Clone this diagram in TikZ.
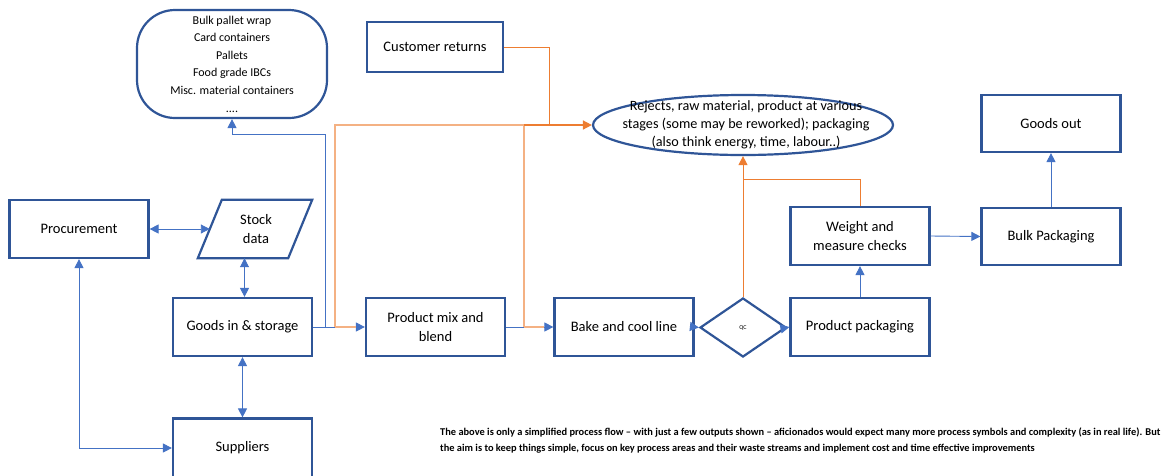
\documentclass[tikz,border=0pt]{standalone}
\usepackage{fontspec}
\setmainfont{Carlito}
\usetikzlibrary{arrows.meta,shapes.geometric,calc}
\definecolor{boxblue}{HTML}{2F5597}
\definecolor{lnblue}{HTML}{4472C4}
\definecolor{orD}{HTML}{ED7D31}
\definecolor{orL}{HTML}{F4B183}
\begin{document}
\begin{tikzpicture}[x=1pt,y=-1pt,
  box/.style={draw=boxblue, line width=2.2pt, fill=white, minimum width=139pt, minimum height=58pt, align=center, inner sep=2pt, font=\fontsize{14.5}{19.5}\selectfont},
  bl/.style={draw=lnblue, line width=0.9pt, -{Triangle[length=9pt,width=9pt]}},
  bld/.style={draw=lnblue, line width=0.9pt, {Triangle[length=9pt,width=9pt]}-{Triangle[length=9pt,width=9pt]}},
  orl/.style={draw=orL, line width=1.3pt},
  ord/.style={draw=orD, line width=1pt},
  ora/.style={draw=orD, line width=1.6pt, -{Triangle[length=9pt,width=9pt]}},
  shape outline/.style={draw=boxblue, line width=2.2pt, fill=white},
  notefont/.style={font=\bfseries\fontsize{10.4}{12}\selectfont}
]
\useasboundingbox (0,0) rectangle (1162,475);

% nodes
\node[box, rounded corners=38pt, minimum width=190pt, minimum height=108pt, font=\fontsize{12}{17.6}\selectfont] (wrap) at (232,64)
  {Bulk pallet wrap\\Card containers\\Pallets\\Food grade IBCs\\Misc. material containers\\....};
\node[box, minimum width=136pt, minimum height=50pt] (cr) at (435,47) {Customer returns};
\node[ellipse, shape outline, minimum width=300pt, minimum height=60pt, inner sep=0pt] (rej) at (743,125) {};
\node[align=center, font=\fontsize{14.2}{18.2}\selectfont, inner sep=0pt] (rejtxt) at (746,124.5)
  {Rejects, raw material, product at various\\stages (some may be reworked); packaging\\(also think energy, time, labour..)};
\node[box, minimum height=57pt] (out) at (1051,123.5) {Goods out};
\node[box] (proc) at (79,229) {Procurement};
\node[minimum width=90pt, minimum height=58pt, inner sep=0pt] (stock) at (255,229) {};
\draw[shape outline] ($(stock.south west)+(-12,0)$) -- ($(stock.south east)+(-12,0)$) -- ($(stock.north east)+(12,0)$) -- ($(stock.north west)+(12,0)$) -- cycle;
\node[align=center, font=\fontsize{14.5}{19.5}\selectfont] (stocktxt) at (256,229) {Stock\\data};
\node[box] (wt) at (860,236) {Weight and\\measure checks};
\node[box, minimum height=57pt] (bulk) at (1051,236.5) {Bulk Packaging};
\node[box] (gin) at (242.5,327) {Goods in \& storage};
\node[box] (mix) at (435.5,327) {Product mix and\\blend};
\node[box] (bake) at (624,327) {Bake and cool line};
\node[diamond, shape outline, minimum width=86pt, minimum height=59pt, inner sep=0pt, font=\fontsize{6}{7}\selectfont] (qc) at (743,327.5) {QC};
\node[box] (pack) at (860,327) {Product packaging};
\node[box, minimum height=59pt] (sup) at (242.5,448) {Suppliers};

% coordinates
\coordinate (j1) at (325,134);
\coordinate (o1) at (335,327);
\coordinate (o2) at (524,327);
\coordinate (o3) at (549,125);
\coordinate (o4) at (743,179);

% blue connectors
\draw[bld] (proc.east) -- (stock.west);
\draw[bld] ([xshift=2pt]gin.north |- stock.south) -- ([xshift=2pt]gin.north);
\draw[bld] (gin.south) -- (sup.north);
\draw[bld] (proc.south) |- (sup.west);
\draw[bl] (gin.east) -- (mix.west);
\draw[bl] (gin.east) -| (j1) -| (wrap.south);
\draw[bl] (mix.east) -- (bake.west);
\draw[bl] (bake.east) -- (qc.west);
\draw[bl] (qc.east) -- (pack.west);
\draw[bl] (pack.north) -- (wt.south);
\draw[bl] (wt.east) -- (bulk.west);
\draw[bl] (bulk.north) -- (out.south);

% orange connectors
\draw[orl] (o1) |- (o2 |- rej.west);
\draw[orl] (o1) -- ([xshift=-9pt]mix.west);
\draw[orl] (o2) -- (o2 |- rej.west);
\draw[orl] (o2) -- ([xshift=-9pt]bake.west);
\draw[ord] (cr.east) -| (o3);
\draw[ora] (o2 |- rej.west) -- (rej.west);
\draw[ord, -{Triangle[length=9pt,width=9pt]}] (qc.north) -- (rej.south);
\draw[ord] (wt.north) |- (o4);

% footnote
\node[anchor=west, inner sep=0pt, notefont] (note1) at (440,433)
  {The above is only a simplified process flow -- with just a few outputs shown -- aficionados would expect many more process symbols and complexity (as in real life). But};
\node[anchor=west, inner sep=0pt, notefont] (note2) at (440,449)
  {the aim is to keep things simple, focus on key process areas and their waste streams and implement cost and time effective improvements};
\end{tikzpicture}
\end{document}
